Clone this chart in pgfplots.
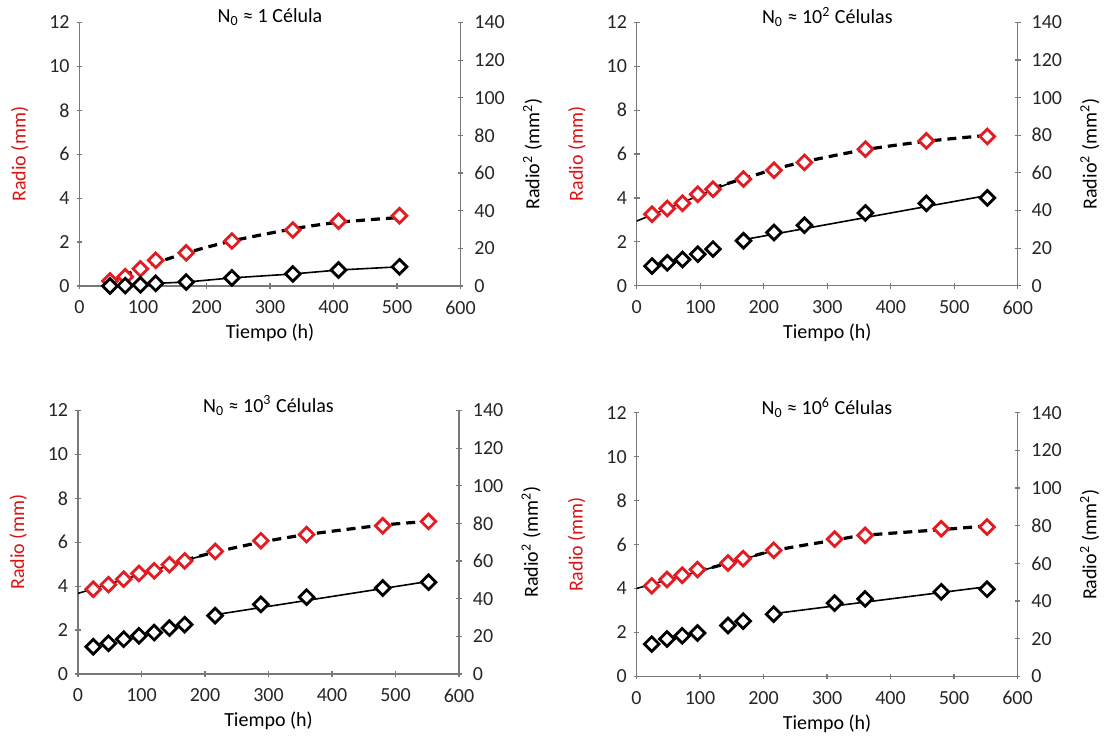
\documentclass[border=0pt]{standalone}
\usepackage{fontspec}
\setmainfont{Carlito}
\usepackage{pgfplots}
\pgfplotsset{compat=1.18}
\definecolor{mred}{RGB}{226,28,34}
\definecolor{lred}{RGB}{218,20,20}
\definecolor{axgray}{RGB}{120,120,120}

\pgfplotsset{
  base/.style={scale only axis, width=190.5pt, height=131.75pt, anchor=south west,
    xmin=0, xmax=600, tick align=outside, major tick length=2.8pt,
    tick style={axgray, line width=0.6pt},
    /pgf/number format/assume math mode=true,
    ticklabel style={font=\fontsize{10}{12}\selectfont, text=black!85},
    label style={font=\fontsize{10}{12}\selectfont},
    clip=false},
  leftax/.style={base, axis x line=bottom, axis y line=left,
    x axis line style={-, axgray, line width=0.6pt},
    y axis line style={-, axgray, line width=0.6pt},
    ymin=0, ymax=12, ytick={0,2,...,12}, xtick={0,100,...,600},
    xticklabel style={yshift=-2.5pt},
    ylabel={Radio (mm)}, xlabel={Tiempo (h)},
    ylabel style={at={(axis description cs:-0.157,0.5)}, anchor=center, text=lred},
    xlabel style={at={(axis description cs:0.5,0)}, yshift=-23.5pt, anchor=center},
    title style={at={(axis description cs:0.5,1)}, anchor=center, yshift=-3.5pt,
      font=\fontsize{10}{12}\selectfont}},
  rightax/.style={base, axis y line=right, hide x axis,
    y axis line style={-, axgray, line width=0.6pt},
    ymin=0, ymax=140, ytick={0,20,...,140},
    yticklabel style={xshift=2pt},
    ylabel={Radio\textsuperscript{2} (mm\textsuperscript{2})},
    ylabel style={at={(axis description cs:1.189,0.5)}, anchor=center}},
  rpts/.style={only marks, mark=square*, mark size=2.6pt,
    mark options={rotate=45, fill=white, draw=mred, line width=1.4pt, solid}},
  bpts/.style={only marks, mark=square*, mark size=2.6pt,
    mark options={rotate=45, fill=white, draw=black, line width=1.4pt, solid}},
  fitdash/.style={black, line width=1.6pt, dash pattern=on 4.5pt off 3pt, no marks, smooth},
  fitline/.style={black, line width=0.8pt, no marks},
}

\begin{document}
\begin{tikzpicture}
\useasboundingbox (0,0) rectangle (553.5pt,370pt);

% N0 ~ 1
\begin{axis}[leftax, at={(39.75pt,227pt)}, title={N\textsubscript{0} ≈ 1 Célula}]
\addplot[fitdash] coordinates {(48,0.15) (96,0.8) (168,1.5) (240,2.05) (336,2.6) (408,2.9) (504,3.12)};
\addplot[rpts] coordinates {(48,0.23) (72,0.42) (96,0.78) (120,1.17) (168,1.51) (240,2.05) (336,2.55) (408,2.95) (504,3.2)};
\end{axis}
\begin{axis}[rightax, at={(39.75pt,227pt)}]
\addplot[fitline] coordinates {(48,0) (72,0.2) (96,0.6) (120,1.4) (168,2.1) (240,4.3) (336,6.4) (408,8.5) (504,10.2)};
\addplot[bpts] coordinates {(48,0) (72,0.2) (96,0.6) (120,1.4) (168,2.1) (240,4.3) (336,6.4) (408,8.5) (504,10.2)};
\end{axis}

% N0 ~ 10^2
\begin{axis}[leftax, at={(318.4pt,227.1pt)}, title={N\textsubscript{0} ≈ 10\textsuperscript{2} Células}]
\addplot[fitline] coordinates {(0,2.95) (150,4.72)};
\addplot[fitdash] coordinates {(120,4.45) (168,4.88) (216,5.3) (264,5.65) (360,6.2) (456,6.58) (552,6.85)};
\addplot[rpts] coordinates {(24,3.26) (48,3.52) (72,3.76) (96,4.17) (120,4.40) (168,4.86) (216,5.26) (264,5.62) (360,6.22) (456,6.6) (552,6.8)};
\end{axis}
\begin{axis}[rightax, at={(318.4pt,227.1pt)}]
\addplot[fitline] coordinates {(168,24.5) (552,48.0)};
\addplot[bpts] coordinates {(24,10.5) (48,12.2) (72,14.0) (96,16.8) (120,19.5) (168,23.9) (216,28.3) (264,32.2) (360,38.7) (456,43.8) (552,46.7)};
\end{axis}

% N0 ~ 10^3
\begin{axis}[leftax, at={(39pt,33pt)}, title={N\textsubscript{0} ≈ 10\textsuperscript{3} Células}]
\addplot[fitline] coordinates {(0,3.67) (200,5.43)};
\addplot[fitdash] coordinates {(168,5.18) (216,5.55) (288,6.0) (360,6.35) (480,6.78) (552,6.95)};
\addplot[rpts] coordinates {(24,3.86) (48,4.07) (72,4.32) (96,4.58) (120,4.70) (144,4.98) (168,5.15) (216,5.58) (288,6.07) (360,6.35) (480,6.75) (552,6.95)};
\end{axis}
\begin{axis}[rightax, at={(39pt,33pt)}]
\addplot[fitline] coordinates {(216,31.5) (552,49.2)};
\addplot[bpts] coordinates {(24,14.5) (48,16.3) (72,18.5) (96,20.3) (120,22.0) (144,24.4) (168,26.2) (216,31.0) (288,37.0) (360,40.8) (480,45.7) (552,48.8)};
\end{axis}

% N0 ~ 10^6
\begin{axis}[leftax, at={(318.25pt,31.85pt)}, title={N\textsubscript{0} ≈ 10\textsuperscript{6} Células}]
\addplot[fitline] coordinates {(0,4.0) (216,5.72)};
\addplot[fitdash] coordinates {(96,4.78) (144,5.15) (216,5.72) (312,6.2) (360,6.42) (480,6.68) (552,6.85)};
\addplot[rpts] coordinates {(24,4.12) (48,4.41) (72,4.60) (96,4.86) (144,5.16) (168,5.36) (216,5.74) (312,6.25) (360,6.42) (480,6.72) (552,6.8)};
\end{axis}
\begin{axis}[rightax, at={(318.25pt,31.85pt)}]
\addplot[fitline] coordinates {(216,33.3) (552,47.6)};
\addplot[bpts] coordinates {(24,17.1) (48,19.8) (72,21.5) (96,23.0) (144,27.0) (168,29.3) (216,33.0) (312,38.9) (360,41.1) (480,44.9) (552,46.3)};
\end{axis}
\end{tikzpicture}
\end{document}
